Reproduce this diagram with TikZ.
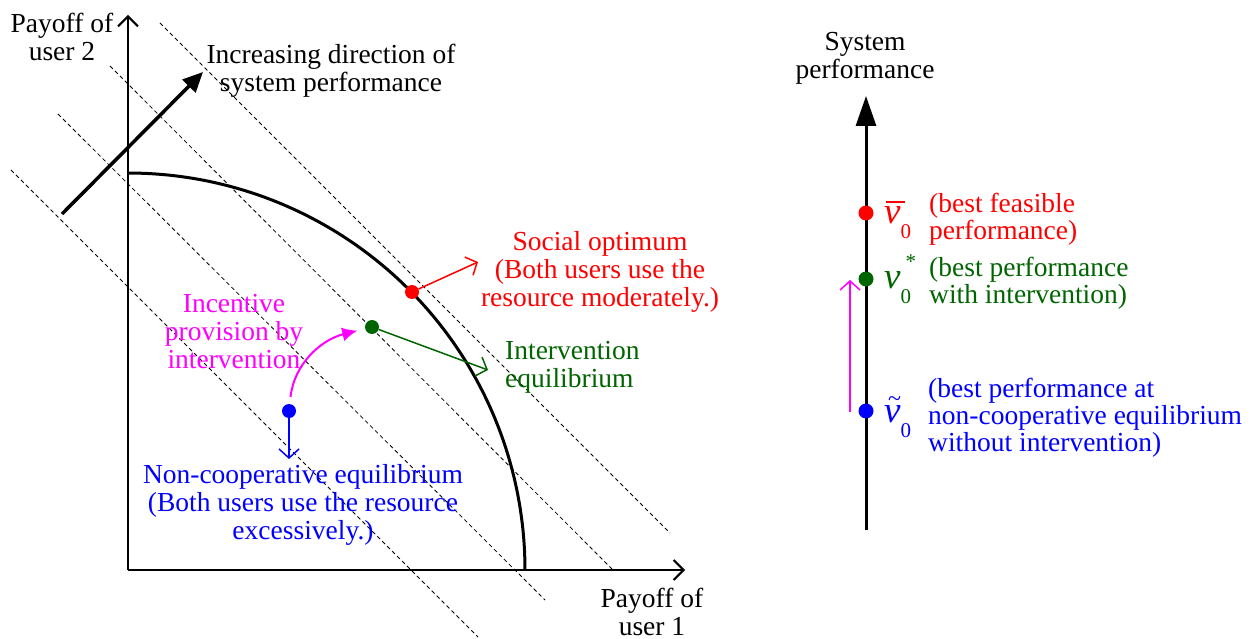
\documentclass[tikz,border=0pt]{standalone}
\usepackage{fontspec}
\setmainfont{Liberation Serif}
\usetikzlibrary{arrows.meta}
\definecolor{dgreen}{RGB}{0,100,0}
\definecolor{mag}{RGB}{255,0,255}
\newcommand{\vfont}{\fontsize{37}{37}\selectfont}
\newcommand{\subzero}{\raisebox{-15pt}{\fontsize{21}{21}\selectfont 0}}
\begin{document}
\begin{tikzpicture}[x=1pt,y=-1pt,
  lbl/.style={font=\fontsize{27.5}{28}\selectfont, inner sep=0pt, align=center},
  lblL/.style={font=\fontsize{27.5}{27}\selectfont, inner sep=0pt, align=left, anchor=west},
  dot/.style={circle, fill, inner sep=0pt, minimum size=14pt},
  vsym/.style={inner sep=0pt, anchor=base west},
  openarr/.style={-{Straight Barb[length=9pt,width=20pt,line width=1.5pt]}, line width=1.5pt},
  axarr/.style={-{Straight Barb[length=10pt,width=20pt,line width=2pt]}, line width=2pt},
  dashline/.style={dash pattern=on 4pt off 3pt, line width=0.8pt},
]
\useasboundingbox (0,0) rectangle (1258,639);

% dashed iso-performance lines
\coordinate (a1) at (160,23);  \coordinate (a2) at (670,533);
\coordinate (b1) at (110,66);  \coordinate (b2) at (612,569);
\coordinate (c1) at (58,114);  \coordinate (c2) at (545,600);
\coordinate (d1) at (11,170);  \coordinate (d2) at (478,637);
\draw[dashline] (a1) -- (a2);
\draw[dashline] (b1) -- (b2);
\draw[dashline] (c1) -- (c2);
\draw[dashline] (d1) -- (d2);

% axes
\coordinate (O) at (128,570);
\coordinate (ytop) at (128,15);
\coordinate (xend) at (685,570);
\draw[axarr] (O) -- (ytop);
\draw[axarr] (O) -- (xend);

% Pareto boundary
\draw[line width=3pt] plot[domain=0:90, smooth, samples=60] ({128+397*cos(\x)},{570-397*sin(\x)});

% increasing direction arrow
\coordinate (bs) at (62,214);
\coordinate (be) at (203,72);
\draw[line width=3.5pt, -{Triangle[length=20pt,width=18pt]}] (bs) -- (be);

% labels left
\node[lbl] (ylab) at (62,36.5) {Payoff of\\user 2};
\node[lbl] (inc) at (331,70.5) {Increasing direction of\\system performance};
\node[lbl] (xlab) at (652,612) {Payoff of\\user 1};

% points
\node[dot, red] (so) at (412,292) {};
\node[dot, dgreen] (ie) at (372,327) {};
\node[dot, blue] (ne) at (289,411) {};

\coordinate (soa) at (478,262);
\coordinate (iea) at (488,370);
\coordinate (nea) at (289,459);
\draw[openarr, red] (so) -- (soa);
\draw[openarr, dgreen] (ie) -- (iea);
\draw[openarr, blue] (ne) -- (nea);

\node[lbl, red] (solab) at (600,272) {Social optimum\\(Both users use the\\resource moderately.)};
\node[lbl, dgreen, align=left, anchor=west] (ielab) at (505,367.5) {Intervention\\equilibrium};
\node[lbl, blue] (nelab) at (303,505) {Non-cooperative equilibrium\\(Both users use the resource\\excessively.)};
\node[lbl, mag] (inclab) at (234,332) {Incentive\\provision by\\intervention};

\draw[mag, line width=2pt, -{Latex[length=15pt,width=14pt]}, shorten <=7pt, shorten >=8pt]
  (ne) .. controls (294,365) and (320,340) .. (ie);

% right panel
\node[lbl] (sp) at (865,58.5) {System\\performance};
\coordinate (rbot) at (866,530);
\coordinate (rtop) at (866,96);
\draw[line width=3pt, -{Triangle[length=30pt,width=20pt]}] (rbot) -- (rtop);

\node[dot, red, minimum size=15pt] (rr) at (866,213) {};
\node[dot, dgreen, minimum size=15pt] (rg) at (866,279) {};
\node[dot, blue, minimum size=15pt] (rb) at (866,411) {};

\coordinate (mtop) at (850,280);
\coordinate (mbot) at (850,412);
\draw[openarr, mag] (mbot) -- (mtop);

\node[vsym, red] (vbar) at (884,223) {\vfont\makebox[0pt][l]{\hspace{2pt}\raisebox{20pt}{\rule{19pt}{1.8pt}}}\textit{v}\subzero};
\node[vsym, dgreen] (vstar) at (884,288) {\vfont\textit{v}\makebox[0pt][l]{\hspace{5pt}\raisebox{20pt}{\fontsize{21}{21}\selectfont *}}\subzero};
\node[vsym, blue] (vtil) at (884,422) {\vfont\makebox[0pt][l]{\hspace{4pt}\raisebox{16pt}{\fontsize{24}{24}\selectfont\char"007E}}\textit{v}\subzero};

\node[lblL, red] (rlab) at (929,219.5) {(best feasible\\performance)};
\node[lblL, dgreen] (glab) at (929,283) {(best performance\\with intervention)};
\node[lblL, blue] (blab) at (928,418) {(best performance at\\non-cooperative equilibrium\\without intervention)};
\end{tikzpicture}
\end{document}
